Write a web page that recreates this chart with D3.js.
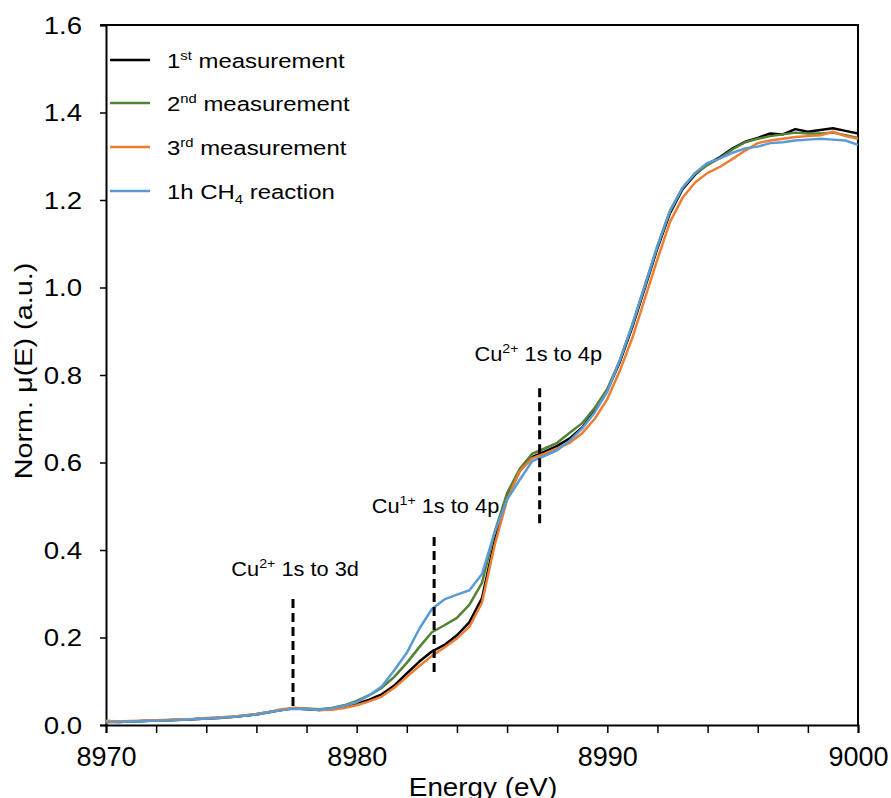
<!DOCTYPE html>
<html>
<head>
<meta charset="utf-8">
<script src="https://cdn.jsdelivr.net/npm/d3@7"></script>
<style>
  body { margin: 0; background: #fff; }
  svg text { font-family: Arial, "Liberation Sans", sans-serif; fill: #000; }
</style>
</head>
<body>
<div id="chart"></div>
<script>
// energy grid (eV)
var energy = [8970,8970.5,8971,8971.5,8972,8972.5,8973,8973.5,8974,8974.5,
  8975,8975.5,8976,8976.5,8977,8977.5,8978,8978.5,8979,8979.5,
  8980,8980.5,8981,8981.5,8982,8982.5,8983,8983.5,8984,8984.5,
  8985,8985.5,8986,8986.5,8987,8987.5,8988,8988.5,8989,8989.5,
  8990,8990.5,8991,8991.5,8992,8992.5,8993,8993.5,8994,8994.5,
  8995,8995.5,8996,8996.5,8997,8997.5,8998,8998.5,8999,8999.5,9000]

// 1st measurement
var meas1 = [0.008,0.007,0.008,0.009,0.010,0.011,0.012,0.013,0.015,0.016,
  0.018,0.021,0.024,0.029,0.034,0.038,0.036,0.034,0.036,0.041,
  0.048,0.058,0.070,0.090,0.118,0.145,0.168,0.183,0.205,0.235,
  0.290,0.420,0.520,0.580,0.612,0.625,0.638,0.655,0.680,0.718,
  0.765,0.830,0.910,1.000,1.090,1.170,1.225,1.258,1.282,1.298,
  1.318,1.333,1.342,1.352,1.350,1.362,1.356,1.360,1.364,1.358,1.352]
// 2nd measurement
var meas2 = [0.007,0.008,0.008,0.009,0.010,0.011,0.012,0.014,0.015,0.017,
  0.019,0.021,0.025,0.030,0.034,0.039,0.038,0.036,0.039,0.045,
  0.055,0.068,0.085,0.110,0.142,0.178,0.212,0.228,0.245,0.275,
  0.325,0.440,0.530,0.585,0.620,0.632,0.645,0.668,0.690,0.725,
  0.768,0.834,0.915,1.005,1.095,1.175,1.228,1.260,1.280,1.296,
  1.316,1.332,1.340,1.346,1.350,1.354,1.352,1.352,1.354,1.348,1.342]
// 3rd measurement
var meas3 = [0.010,0.008,0.009,0.010,0.011,0.012,0.013,0.014,0.016,0.017,
  0.019,0.022,0.025,0.030,0.036,0.039,0.037,0.034,0.035,0.039,
  0.045,0.054,0.065,0.085,0.110,0.135,0.158,0.177,0.198,0.225,
  0.280,0.410,0.515,0.580,0.610,0.620,0.632,0.645,0.667,0.700,
  0.745,0.810,0.885,0.975,1.065,1.150,1.205,1.240,1.262,1.276,
  1.294,1.313,1.330,1.336,1.340,1.344,1.346,1.348,1.356,1.346,1.340]
// 1h CH4 reaction
var reaction = [0.006,0.007,0.008,0.009,0.010,0.011,0.012,0.013,0.015,0.016,
  0.018,0.021,0.024,0.029,0.034,0.037,0.036,0.035,0.038,0.044,
  0.052,0.068,0.088,0.125,0.165,0.220,0.265,0.287,0.298,0.308,
  0.345,0.440,0.515,0.560,0.603,0.615,0.628,0.650,0.678,0.715,
  0.762,0.834,0.915,1.005,1.095,1.175,1.228,1.262,1.285,1.295,
  1.308,1.318,1.322,1.330,1.332,1.336,1.338,1.340,1.338,1.336,1.326]

var seriesColors = ["#000000","#548235","#ed7d31","#5b9bd5"]
var seriesValues = [meas1, meas2, meas3, reaction]

// dashed markers: energy, top and bottom value
var markerEnergy = [8977.46, 8983.09, 8987.3]
var markerTop = [0.288, 0.43, 0.77]
var markerBottom = [0.036, 0.11, 0.45]

var xTicks = [8970,8972,8974,8976,8978,8980,8982,8984,8986,8988,8990,8992,8994,8996,8998,9000]
var xLabels = [8970,8980,8990,9000]
var yTicks = [0,0.2,0.4,0.6,0.8,1.0,1.2,1.4,1.6]

var width = 891, height = 798
var pLeft = 106, pRight = 858, pTop = 25, pBottom = 725

var svg = d3.select("#chart").append("svg").attr("width",width).attr("height",height)

var x = d3.scaleLinear().domain([8970,9000]).range([pLeft,pRight])
var y = d3.scaleLinear().domain([0,1.6]).range([pBottom,pTop])

// the source image is slightly stretched sideways, so some text gets a horizontal scale
function placeText(px, py, k){
    return svg.append("text").attr("transform","translate("+px+","+py+") scale("+k+",1)")
}

// frame (top & right)
svg.append("path")
    .attr("d","M"+(pLeft-6)+","+pTop+"H"+pRight+"V"+pBottom)
    .attr("fill","none").attr("stroke","#000").attr("stroke-width",2)

// y axis
var yK = 1.15
var yAxis = svg.append("g").attr("transform","translate("+pLeft+",0)")
    .call(d3.axisLeft(y).tickValues(yTicks).tickSize(6).tickFormat(d3.format(".1f")))
yAxis.select(".domain").attr("stroke-width",2)
yAxis.selectAll(".tick line").attr("stroke-width",1.5)
yAxis.selectAll(".tick text").attr("font-size",24).attr("font-family","Arial, Liberation Sans, sans-serif")
    .attr("x",-24/yK).attr("dy","0.35em").attr("transform","scale("+yK+",1)")

// x axis
var xAxis = svg.append("g").attr("transform","translate(0,"+pBottom+")")
    .call(d3.axisBottom(x).tickValues(xTicks).tickSize(8).tickPadding(14)
      .tickFormat(function(d){ return xLabels.indexOf(d)>-1 ? d : "" }))
xAxis.select(".domain").attr("stroke-width",2)
xAxis.selectAll(".tick line").attr("stroke-width",1.5)
xAxis.selectAll(".tick text").attr("font-size",27).attr("font-family","Arial, Liberation Sans, sans-serif")

// axis titles
placeText(483,796,1.07).attr("text-anchor","middle").attr("font-size",26).text("Energy (eV)")
svg.append("text").attr("transform","translate(32,371) rotate(-90) scale(1.2,1)").attr("text-anchor","middle")
    .attr("font-size",24).text("Norm. μ(E) (a.u.)")

// series lines
var line = d3.line()
    .x(function(d,i){ return x(energy[i]) })
    .y(function(d){ return y(d) })

for(var s in seriesValues){
    svg.append("path")
        .datum(seriesValues[s])
        .attr("d",line)
        .attr("fill","none")
        .attr("stroke",seriesColors[s])
        .attr("stroke-width",2.5)
        .attr("stroke-linejoin","round")
}

// dashed markers
for(var m in markerEnergy){
    svg.append("line")
        .attr("x1",x(markerEnergy[m])).attr("x2",x(markerEnergy[m]))
        .attr("y1",y(markerTop[m])).attr("y2",y(markerBottom[m]))
        .attr("stroke","#000").attr("stroke-width",3)
        .attr("stroke-dasharray","9,5")
}

// annotation labels
function annot(px, py, sup, rest){
    var t = placeText(px,py,1.09).attr("font-size",20)
    t.append("tspan").text("Cu")
    t.append("tspan").attr("font-size",13).attr("dy",-8).text(sup)
    t.append("tspan").attr("dy",8).text(" "+rest)
}
annot(x(8975.0), y(0.34), "2+", "1s to 3d")
annot(x(8980.6), y(0.484), "1+", "1s to 4p")
annot(x(8984.7), y(0.832), "2+", "1s to 4p")

// legend
var legendY = [60,103,147,191]
var legendParts = [["1","st"," measurement"],["2","nd"," measurement"],["3","rd"," measurement"]]
for(var i = 0; i < 4; i++){
    svg.append("line").attr("x1",110).attr("x2",150).attr("y1",legendY[i]).attr("y2",legendY[i])
        .attr("stroke",seriesColors[i]).attr("stroke-width",2.5)
    var t = placeText(167,legendY[i]+8,1.14).attr("font-size",21)
    if(i < 3){
        t.append("tspan").text(legendParts[i][0])
        t.append("tspan").attr("font-size",13).attr("dy",-8).text(legendParts[i][1])
        t.append("tspan").attr("dy",8).text(legendParts[i][2])
    }else{
        t.append("tspan").text("1h CH")
        t.append("tspan").attr("font-size",13).attr("dy",5).text("4")
        t.append("tspan").attr("dy",-5).text(" reaction")
    }
}
</script>
</body>
</html>
